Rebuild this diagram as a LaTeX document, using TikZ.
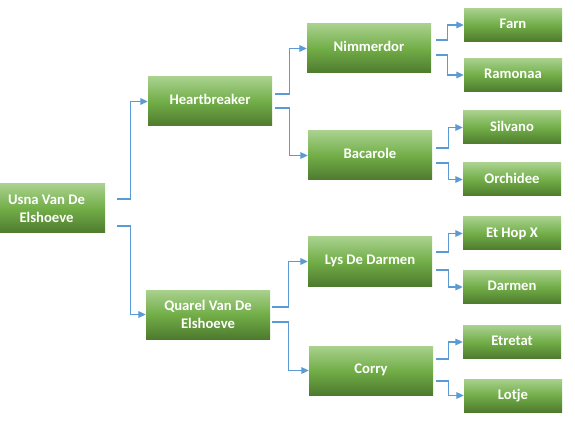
\documentclass[tikz,border=0pt]{standalone}
\usepackage{fontspec}
\setmainfont{Carlito}
\usetikzlibrary{arrows.meta}
\definecolor{gtop}{HTML}{A9D18E}
\definecolor{gmid}{HTML}{72AE48}
\definecolor{gbot}{HTML}{4E7A2E}
\definecolor{conn}{HTML}{5B9BD5}
\newcommand\liftbig[1]{\raisebox{3pt}{#1}}
\newcommand\liftsmall[1]{\raisebox{1.5pt}{#1}}
\tikzset{
  box/.style={rectangle, inner sep=0pt, top color=gtop, bottom color=gbot, middle color=gmid,
    text=white, font=\fontsize{11pt}{13.5pt}\selectfont\bfseries, align=center},
  bigbox/.style={box, minimum width=93pt, minimum height=36.75pt},
  smallbox/.style={box, minimum width=73.5pt, minimum height=24.75pt},
  link/.style={draw=conn, line width=0.8pt, -{Triangle[length=5.5pt,width=5pt]}}
}
\begin{document}
\begin{tikzpicture}[x=0.75pt,y=-0.75pt]
\useasboundingbox (0,0) rectangle (575,424);
\node[bigbox, minimum width=78.75pt] (root) at (52.5,208.5) {Usna Van De\hspace*{9pt}\\Elshoeve\hspace*{9pt}};
\node[bigbox] (hb) at (210,101.5) {\liftbig{Heartbreaker}};
\node[bigbox] (qu) at (208,314.5) {Quarel Van De\\Elshoeve};
\node[bigbox] (nim) at (369,48.5) {\liftbig{Nimmerdor}};
\node[bigbox] (bac) at (370,155.5) {\liftbig{Bacarole}};
\node[bigbox] (lys) at (370,261.5) {\liftbig{Lys De Darmen}};
\node[bigbox] (cor) at (371,370.5) {\liftbig{Corry}};
\node[smallbox] (farn) at (513,25) {\liftsmall{Farn}};
\node[smallbox] (ram) at (513,75) {\liftsmall{Ramonaa}};
\node[smallbox] (sil) at (512,127.5) {\liftsmall{Silvano}};
\node[smallbox] (orc) at (512,179.5) {\liftsmall{Orchidee}};
\node[smallbox] (eth) at (512,233.5) {\liftsmall{Et Hop X}};
\node[smallbox] (dar) at (512,287) {\liftsmall{Darmen}};
\node[smallbox] (etr) at (512,342) {\liftsmall{Etretat}};
\node[smallbox] (lot) at (513,395.5) {\liftsmall{Lotje}};

\draw[link] ([shift={(12,-9.5)}]root.east) -- ++(13,0) |- (hb.west);
\draw[link] ([shift={(12,17.5)}]root.east) -- ++(13,0) |- (qu.west);
\draw[link] ([shift={(3,-7.5)}]hb.east) -- ++(14,0) |- (nim.west);
\draw[link] ([shift={(3,6.5)}]hb.east) -- ++(14,0) |- (bac.west);
\draw[link] ([shift={(2,-7.5)}]qu.east) -- ++(16,0) |- (lys.west);
\draw[link] ([shift={(2,7.5)}]qu.east) -- ++(16,0) |- (cor.west);
\draw[link] ([shift={(5,-8.5)}]nim.east) -- ++(11,0) |- (farn.west);
\draw[link] ([shift={(5,6.5)}]nim.east) -- ++(11,0) |- (ram.west);
\draw[link] ([shift={(4,-7.5)}]bac.east) -- ++(12,0) |- (sil.west);
\draw[link] ([shift={(4,7.5)}]bac.east) -- ++(12,0) |- (orc.west);
\draw[link] ([shift={(4,-9.5)}]lys.east) -- ++(12,0) |- (eth.west);
\draw[link] ([shift={(4,8.5)}]lys.east) -- ++(12,0) |- (dar.west);
\draw[link] ([shift={(3,-11.5)}]cor.east) -- ++(12,0) |- (etr.west);
\draw[link] ([shift={(3,10.5)}]cor.east) -- ++(12,0) |- (lot.west);
\end{tikzpicture}
\end{document}
